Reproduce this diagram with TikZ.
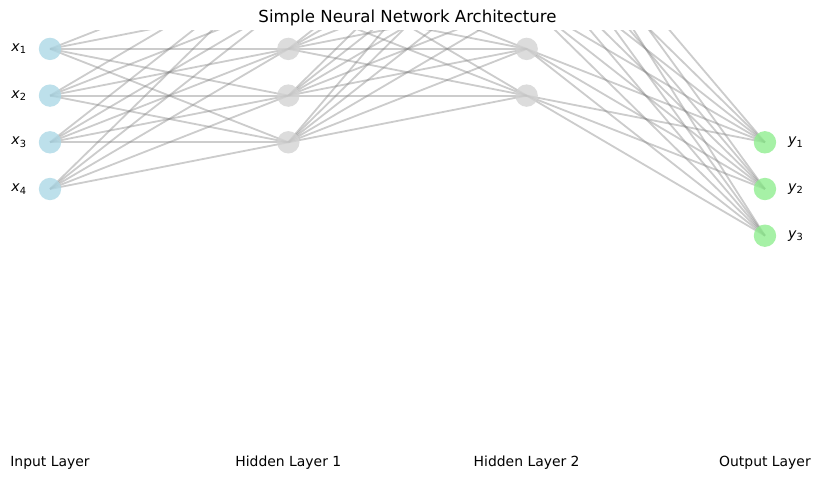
\documentclass[tikz,border=0pt]{standalone}
\usepackage{fontspec}
\setmainfont{DejaVu Sans}
\usepackage{xcolor}
\usepackage{tikz}

\definecolor{inblue}{RGB}{173,216,230}
\definecolor{hidgray}{RGB}{211,211,211}
\definecolor{outgreen}{RGB}{144,238,144}
\newcommand{\unitlab}[2]{\textit{#1}\textsubscript{#2}}

\begin{document}
\begin{tikzpicture}%
                [x={(5.958cm, 0cm)},
                y={(0cm, 1.1675cm)},
                edge/.style={draw=gray, draw opacity=0.4, line width=1.3pt},
                unit/.style={circle, inner sep=0pt, minimum size=0.56cm, fill opacity=0.8},
                inunit/.style={unit, fill=inblue},
                hidunit/.style={unit, fill=hidgray},
                outunit/.style={unit, fill=outgreen},
                unitlabel/.style={font=\fontsize{10}{12}\selectfont, text opacity=1},
                layertext/.style={font=\fontsize{9.9}{11}\selectfont}]
            %
            \useasboundingbox (-0.20980, -6.70240) rectangle (3.23095, 4.04710);
            %
            %% Title of the figure
            \node[font=\fontsize{11.8}{14}\selectfont] (title) at (1.50000, 3.66000) {Simple Neural Network Architecture};
            %%
            %% Everything of the network lies in the plotting area
            \begin{scope}
            \clip (-0.20980, -6.70240) rectangle (3.23095, 3.38330);
            %%
            %% Coordinates of the units:
            %%
            \coordinate (i1) at (0.00000, 3.00000);
            \coordinate (i2) at (0.00000, 2.00000);
            \coordinate (i3) at (0.00000, 1.00000);
            \coordinate (i4) at (0.00000, 0.00000);
            \coordinate (a1) at (1.00000, 5.00000);
            \coordinate (a2) at (1.00000, 4.00000);
            \coordinate (a3) at (1.00000, 3.00000);
            \coordinate (a4) at (1.00000, 2.00000);
            \coordinate (a5) at (1.00000, 1.00000);
            \coordinate (b1) at (2.00000, 7.00000);
            \coordinate (b2) at (2.00000, 6.00000);
            \coordinate (b3) at (2.00000, 5.00000);
            \coordinate (b4) at (2.00000, 4.00000);
            \coordinate (b5) at (2.00000, 3.00000);
            \coordinate (b6) at (2.00000, 2.00000);
            \coordinate (o1) at (3.00000, 1.00000);
            \coordinate (o2) at (3.00000, 0.00000);
            \coordinate (o3) at (3.00000, -1.00000);
            %%
            %%
            %% Drawing the connections
            %%
            \draw[edge] (i1) -- (a1);
            \draw[edge] (i1) -- (a2);
            \draw[edge] (i1) -- (a3);
            \draw[edge] (i1) -- (a4);
            \draw[edge] (i1) -- (a5);
            \draw[edge] (i2) -- (a1);
            \draw[edge] (i2) -- (a2);
            \draw[edge] (i2) -- (a3);
            \draw[edge] (i2) -- (a4);
            \draw[edge] (i2) -- (a5);
            \draw[edge] (i3) -- (a1);
            \draw[edge] (i3) -- (a2);
            \draw[edge] (i3) -- (a3);
            \draw[edge] (i3) -- (a4);
            \draw[edge] (i3) -- (a5);
            \draw[edge] (i4) -- (a1);
            \draw[edge] (i4) -- (a2);
            \draw[edge] (i4) -- (a3);
            \draw[edge] (i4) -- (a4);
            \draw[edge] (i4) -- (a5);
            %%
            \draw[edge] (a1) -- (b1);
            \draw[edge] (a1) -- (b2);
            \draw[edge] (a1) -- (b3);
            \draw[edge] (a1) -- (b4);
            \draw[edge] (a1) -- (b5);
            \draw[edge] (a1) -- (b6);
            \draw[edge] (a2) -- (b1);
            \draw[edge] (a2) -- (b2);
            \draw[edge] (a2) -- (b3);
            \draw[edge] (a2) -- (b4);
            \draw[edge] (a2) -- (b5);
            \draw[edge] (a2) -- (b6);
            \draw[edge] (a3) -- (b1);
            \draw[edge] (a3) -- (b2);
            \draw[edge] (a3) -- (b3);
            \draw[edge] (a3) -- (b4);
            \draw[edge] (a3) -- (b5);
            \draw[edge] (a3) -- (b6);
            \draw[edge] (a4) -- (b1);
            \draw[edge] (a4) -- (b2);
            \draw[edge] (a4) -- (b3);
            \draw[edge] (a4) -- (b4);
            \draw[edge] (a4) -- (b5);
            \draw[edge] (a4) -- (b6);
            \draw[edge] (a5) -- (b1);
            \draw[edge] (a5) -- (b2);
            \draw[edge] (a5) -- (b3);
            \draw[edge] (a5) -- (b4);
            \draw[edge] (a5) -- (b5);
            \draw[edge] (a5) -- (b6);
            %%
            \draw[edge] (b1) -- (o1);
            \draw[edge] (b1) -- (o2);
            \draw[edge] (b1) -- (o3);
            \draw[edge] (b2) -- (o1);
            \draw[edge] (b2) -- (o2);
            \draw[edge] (b2) -- (o3);
            \draw[edge] (b3) -- (o1);
            \draw[edge] (b3) -- (o2);
            \draw[edge] (b3) -- (o3);
            \draw[edge] (b4) -- (o1);
            \draw[edge] (b4) -- (o2);
            \draw[edge] (b4) -- (o3);
            \draw[edge] (b5) -- (o1);
            \draw[edge] (b5) -- (o2);
            \draw[edge] (b5) -- (o3);
            \draw[edge] (b6) -- (o1);
            \draw[edge] (b6) -- (o2);
            \draw[edge] (b6) -- (o3);
            %%
            %%
            %% Drawing the units
            %%
            \node[inunit,label={[unitlabel,label distance=0.17cm]180:\unitlab{x}{1}}] (in1) at (i1) {};
            \node[inunit,label={[unitlabel,label distance=0.17cm]180:\unitlab{x}{2}}] (in2) at (i2) {};
            \node[inunit,label={[unitlabel,label distance=0.17cm]180:\unitlab{x}{3}}] (in3) at (i3) {};
            \node[inunit,label={[unitlabel,label distance=0.17cm]180:\unitlab{x}{4}}] (in4) at (i4) {};
            \node[hidunit] (hida1) at (a1) {};
            \node[hidunit] (hida2) at (a2) {};
            \node[hidunit] (hida3) at (a3) {};
            \node[hidunit] (hida4) at (a4) {};
            \node[hidunit] (hida5) at (a5) {};
            \node[hidunit] (hidb1) at (b1) {};
            \node[hidunit] (hidb2) at (b2) {};
            \node[hidunit] (hidb3) at (b3) {};
            \node[hidunit] (hidb4) at (b4) {};
            \node[hidunit] (hidb5) at (b5) {};
            \node[hidunit] (hidb6) at (b6) {};
            \node[outunit,label={[unitlabel,label distance=0.17cm]0:\unitlab{y}{1}}] (out1) at (o1) {};
            \node[outunit,label={[unitlabel,label distance=0.17cm]0:\unitlab{y}{2}}] (out2) at (o2) {};
            \node[outunit,label={[unitlabel,label distance=0.17cm]0:\unitlab{y}{3}}] (out3) at (o3) {};
            \end{scope}
            %%
            %%
            %% Names of the layers
            %%
            \node[layertext] (inname) at (0.00000, -5.86000) {Input Layer};
            \node[layertext] (hidaname) at (1.00000, -5.86000) {Hidden Layer 1};
            \node[layertext] (hidbname) at (2.00000, -5.86000) {Hidden Layer 2};
            \node[layertext] (outname) at (3.00000, -5.86000) {Output Layer};
            %%
            %%
            \end{tikzpicture}
\end{document}
